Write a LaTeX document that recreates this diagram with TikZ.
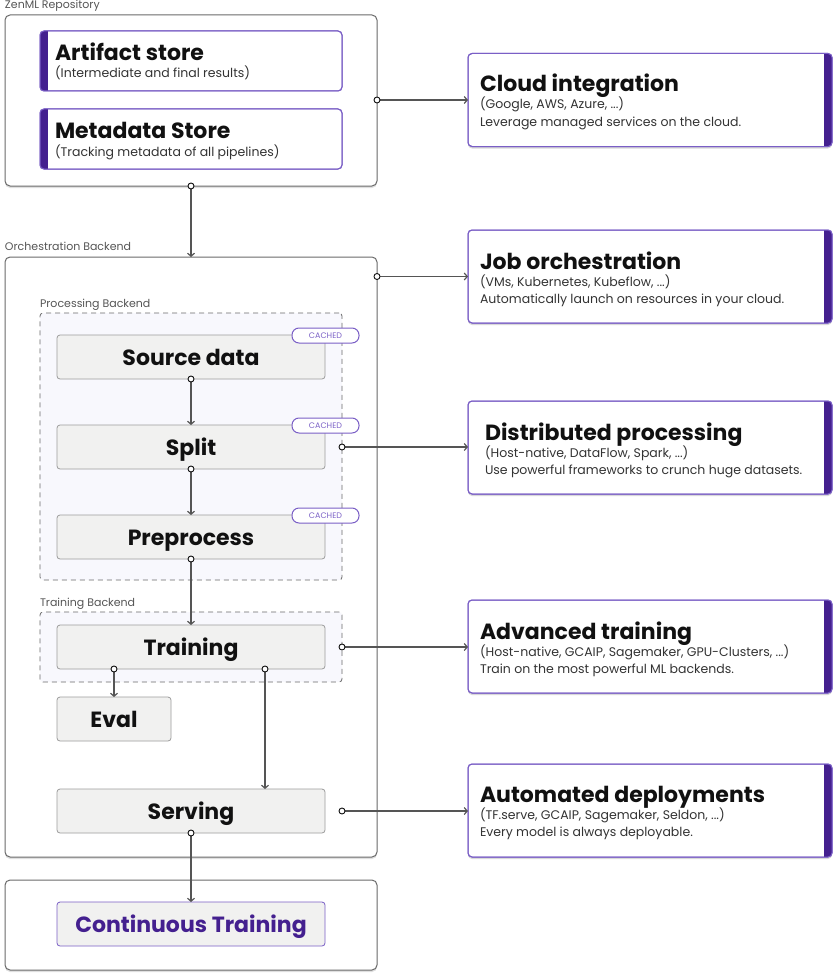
\documentclass[tikz,border=0pt]{standalone}
\usepackage{fontspec}
\setmainfont{Poppins}
\usetikzlibrary{shadows,arrows.meta}
\definecolor{cgray}{HTML}{6A6A6A}
\definecolor{ngray}{HTML}{9C9C9C}
\definecolor{nfill}{HTML}{F1F1F0}
\definecolor{pfill}{HTML}{F8F8FD}
\definecolor{pborder}{HTML}{7A5FC6}
\definecolor{pbar}{HTML}{44208F}
\definecolor{ptext}{HTML}{7E64C8}
\definecolor{lgray}{HTML}{555555}
\definecolor{ink}{HTML}{111111}
\newcommand{\fs}[1]{\fontsize{#1}{#1}\selectfont}
\tikzset{
  base/.style={inner sep=0pt, outer sep=0pt},
  container/.style={base, draw=cgray, line width=1pt, rounded corners=5pt, fill=white,
    drop shadow={opacity=0.25, shadow xshift=0pt, shadow yshift=-2pt}},
  purplebox/.style={base, draw=pborder, line width=1pt, rounded corners=4pt, fill=white},
  rightbox/.style={base, draw=pborder, line width=1pt, rounded corners=4pt, fill=white,
    minimum width=364pt, minimum height=93pt,
    drop shadow={opacity=0.3, shadow xshift=0pt, shadow yshift=-2pt}},
  dashbox/.style={base, draw=cgray, dashed, dash pattern=on 5pt off 4pt, line width=0.8pt, rounded corners=3pt, fill=pfill},
  stepbox/.style={base, draw=ngray, line width=0.8pt, rounded corners=3pt, fill=nfill,
    minimum height=44pt, text height=16pt, text depth=0pt, font=\fs{22}\bfseries, text=ink},
  badge/.style={base, draw=pborder, line width=1pt, rounded corners=7pt, fill=white,
    minimum width=67pt, minimum height=15pt, font=\fs{8}, text=ptext},
  grouplabel/.style={base, anchor=base west, font=\fs{11}, text=lgray},
  title/.style={base, anchor=base west, font=\fs{22}\bfseries, text=ink},
  sub/.style={base, anchor=base west, font=\fs{12.5}, text=lgray!60!black},
  dot/.style={circle, draw=ink, fill=white, line width=0.9pt, inner sep=0pt, minimum size=6pt},
  conn/.style={draw=lgray, line width=1.2pt, -{Straight Barb[length=3pt,width=7pt]}},
}
\begin{document}
\begin{tikzpicture}[x=1pt,y=-1pt]
\useasboundingbox (0,0) rectangle (837,979);

% ---------- ZenML repository ----------
\node[grouplabel] (lrepo) at (5,9) {ZenML Repository};
\node[container, minimum width=372pt, minimum height=171pt] (repo) at (191,100.5) {};
\node[purplebox, minimum width=302pt, minimum height=60pt] (art) at (191,61) {};
\begin{scope}\clip[rounded corners=4pt] (40,31) rectangle (342,91); \fill[pbar] (40,31) rectangle (48,91);\end{scope}
\draw[pborder, line width=1pt, rounded corners=4pt] (40,31) rectangle (342,91);
\node[title] (artT) at (55,61) {Artifact store};
\node[sub] (artS) at (55,78) {(Intermediate and final results)};
\node[purplebox, minimum width=302pt, minimum height=60pt] (meta) at (191,139) {};
\begin{scope}\clip[rounded corners=4pt] (40,109) rectangle (342,169); \fill[pbar] (40,109) rectangle (48,169);\end{scope}
\draw[pborder, line width=1pt, rounded corners=4pt] (40,109) rectangle (342,169);
\node[title] (metaT) at (55,139) {Metadata Store};
\node[sub] (metaS) at (55,156) {(Tracking metadata of all pipelines)};

% ---------- Orchestration backend ----------
\node[grouplabel] (lorch) at (5,250) {Orchestration Backend};
\node[container, minimum width=372pt, minimum height=600pt] (orch) at (191,557) {};

\node[grouplabel] (lproc) at (40,307) {Processing Backend};
\node[dashbox, minimum width=302pt, minimum height=267pt] (proc) at (191,446.5) {};
\node[stepbox, minimum width=268pt] (src) at (191,357) {Source data};
\node[stepbox, minimum width=268pt] (split) at (191,447) {Split};
\node[stepbox, minimum width=268pt] (prep) at (191,537) {Preprocess};
\node[badge] (c1) at (325.5,335.5) {CACHED};
\node[badge] (c2) at (325.5,425.5) {CACHED};
\node[badge] (c3) at (325.5,515.5) {CACHED};

\node[grouplabel] (ltrain) at (40,606) {Training Backend};
\node[dashbox, minimum width=302pt, minimum height=70pt] (tb) at (191,647) {};
\node[stepbox, minimum width=268pt] (train) at (191,647) {Training};
\node[stepbox, minimum width=114pt] (eval) at (114,719) {Eval};
\node[stepbox, minimum width=268pt] (serve) at (191,811) {Serving};

% ---------- Bottom ----------
\node[container, minimum width=372pt, minimum height=90pt] (bottom) at (191,925) {};
\node[stepbox, draw=pborder, minimum width=268pt, text=pbar] (ct) at (191,924) {Continuous Training};

% ---------- Right boxes ----------
\foreach \n/\cy in {cloud/100, job/276.5, dist/447.5, adv/646.5, auto/810.5}{
  \node[rightbox] (\n) at (650,\cy) {};
  \begin{scope}\clip[rounded corners=4pt] (468,\cy-46.5) rectangle (832,\cy+46.5); \fill[pbar] (824,\cy-46.5) rectangle (832,\cy+46.5);\end{scope}
  \draw[pborder, line width=1pt, rounded corners=4pt] (468,\cy-46.5) rectangle (832,\cy+46.5);
}
\node[title] (cloudT) at (480,92) {Cloud integration};
\node[sub] (cloudS1) at (480,109) {(Google, AWS, Azure, ...)};
\node[sub] (cloudS2) at (480,126) {Leverage managed services on the cloud.};
\node[title] (jobT) at (480,269) {Job orchestration};
\node[sub] (jobS1) at (480,286) {(VMs, Kubernetes, Kubeflow, ...)};
\node[sub] (jobS2) at (480,303) {Automatically launch on resources in your cloud.};
\node[title] (distT) at (485,440) {Distributed processing};
\node[sub] (distS1) at (485,457) {(Host-native, DataFlow, Spark, ...)};
\node[sub] (distS2) at (485,474) {Use powerful frameworks to crunch huge datasets.};
\node[title] (advT) at (480,639) {Advanced training};
\node[sub] (advS1) at (480,656) {(Host-native, GCAIP, Sagemaker, GPU-Clusters, ...)};
\node[sub] (advS2) at (480,673) {Train on the most powerful ML backends.};
\node[title] (autoT) at (480,802) {Automated deployments};
\node[sub] (autoS1) at (480,819) {(TF.serve, GCAIP, Sagemaker, Seldon, ...)};
\node[sub] (autoS2) at (480,836) {Every model is always deployable.};

% ---------- Connectors ----------
\coordinate (sd) at (342,811);
\coordinate (tsx) at (265,669);
\draw[conn] (repo.east |- cloud.west) -- (cloud.west);
\draw[conn] (repo.south) -- (orch.north);
\draw[conn] (orch.east |- job.west) -- (job.west);
\draw[conn] (proc.east |- split.east) -- (dist.west |- split.east);
\draw[conn] (src.south) -- (split.north);
\draw[conn] (split.south) -- (prep.north);
\draw[conn] (prep.south) -- (train.north);
\draw[conn] (tb.east) -- (adv.west |- tb.east);
\draw[conn] (train.south -| eval.north) -- (eval.north);
\draw[conn] (tsx) -- (serve.north -| tsx);
\draw[conn] (sd) -- (auto.west |- sd);
\draw[conn] (serve.south) -- (ct.north);

% ---------- Dots ----------
\node[dot] (d1) at (repo.east |- cloud.west) {};
\node[dot] (d2) at (repo.south) {};
\node[dot] (d3) at (orch.east |- job.west) {};
\node[dot] (d4) at (proc.east |- split.east) {};
\node[dot] (d5) at (src.south) {};
\node[dot] (d6) at (split.south) {};
\node[dot] (d7) at (prep.south) {};
\node[dot] (d8) at (tb.east) {};
\node[dot] (d9) at (train.south -| eval.north) {};
\node[dot] (d10) at (tsx) {};
\node[dot] (d11) at (sd) {};
\node[dot] (d12) at (serve.south) {};
\end{tikzpicture}
\end{document}
